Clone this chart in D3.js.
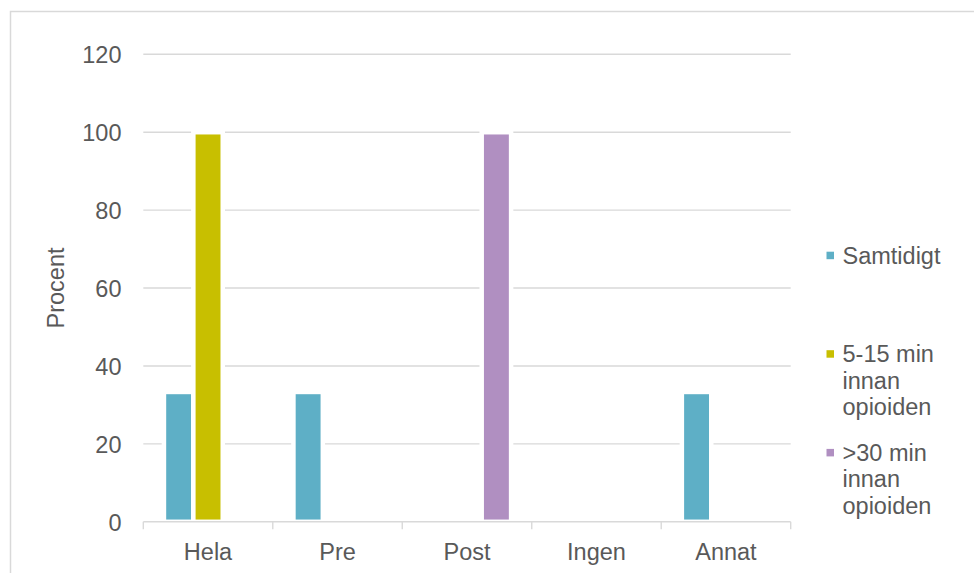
<!DOCTYPE html>
<html><head><meta charset="utf-8">
<script src="https://cdn.jsdelivr.net/npm/d3@7"></script>
<style>html,body{margin:0;padding:0;background:#fff;}svg{display:block;font-family:"Liberation Sans",Arial,sans-serif;}</style>
</head><body>
<svg id="c" width="974" height="573"></svg>
<script>
const categories = ["Hela","Pre","Post","Ingen","Annat"];
const seriesNames = [["Samtidigt"],["5-15 min","innan","opioiden"],[">30 min","innan","opioiden"]];
const samtidigt = [33.33,33.33,0,0,33.33];
const min5_15 = [100,0,0,0,0];
const min30 = [0,0,100,0,0];
const yTicks = [0,20,40,60,80,100,120];
const colors = ["#5eafc6","#c8bf00","#b08fc1"];
const seriesValues = [samtidigt, min5_15, min30];

const svg = d3.select("#c");
const textCol = "#595959", gridCol = "#d9d9d9";
const fs = 23.5;

svg.append("rect").attr("x",10.5).attr("y",11.5).attr("width",1200).attr("height",1200)
  .attr("fill","none").attr("stroke",gridCol).attr("stroke-width",1.5);

const x0 = d3.scaleBand().domain(categories).range([143.3,790.7]).padding(0);
const x1 = d3.scaleBand().domain([0,1,2]).range([0,x0.bandwidth()]).paddingInner(0).paddingOuter(0.702);
const y = d3.scaleLinear().domain([0,120]).range([521.8,54.3]);

// gridlines
svg.append("g").selectAll("line").data(yTicks.filter(t=>t>0)).join("line")
  .attr("x1",x0.range()[0]).attr("x2",x0.range()[1])
  .attr("y1",d=>y(d)).attr("y2",d=>y(d))
  .attr("stroke",gridCol).attr("stroke-width",1.4);

// y labels
svg.append("g").selectAll("text").data(yTicks).join("text")
  .attr("x",121.5).attr("y",d=>y(d)+8.7).attr("text-anchor","end")
  .attr("font-size",fs).attr("fill",textCol).text(d=>d);

// bars
const data = [];
categories.forEach((c,i)=>seriesValues.forEach((s,j)=>data.push({c,j,v:s[i]})));
svg.append("g").selectAll("rect").data(data.filter(d=>d.v>0)).join("rect")
  .attr("x",d=>x0(d.c)+x1(d.j)).attr("width",x1.bandwidth())
  .attr("y",d=>y(d.v)).attr("height",d=>y(0)-y(d.v))
  .attr("fill",d=>colors[d.j]).attr("stroke","#fff").attr("stroke-width",4.5);

// x axis
const xa = svg.append("g");
xa.append("line").attr("x1",x0.range()[0]).attr("x2",x0.range()[1])
  .attr("y1",y(0)).attr("y2",y(0)).attr("stroke",gridCol).attr("stroke-width",1.4);
const bounds = categories.map(c=>x0(c)).concat([x0.range()[1]]);
xa.selectAll("line.t").data(bounds).join("line").attr("class","t")
  .attr("x1",d=>d).attr("x2",d=>d).attr("y1",y(0)).attr("y2",y(0)+7.5)
  .attr("stroke",gridCol).attr("stroke-width",1.4);
xa.selectAll("text").data(categories).join("text")
  .attr("x",d=>x0(d)+x0.bandwidth()/2).attr("y",559.5)
  .attr("text-anchor","middle").attr("font-size",fs).attr("fill",textCol).text(d=>d);

// y title
svg.append("text").attr("transform","translate(64,288) rotate(-90)")
  .attr("text-anchor","middle").attr("font-size",fs).attr("fill",textCol).text("Procent");

// legend
const legBase = [263.5,362,460.7];
const lh = 26.5;
const lg = svg.append("g");
seriesNames.forEach((lines,i)=>{
  lg.append("rect").attr("x",826.5).attr("y",legBase[i]-11.8).attr("width",7.5).attr("height",7.5).attr("fill",colors[i]);
  const t = lg.append("text").attr("x",842.5).attr("y",legBase[i]).attr("font-size",fs).attr("fill",textCol);
  lines.forEach((l,k)=>t.append("tspan").attr("x",842.5).attr("y",legBase[i]+k*lh).text(l));
});
</script>
</body></html>
